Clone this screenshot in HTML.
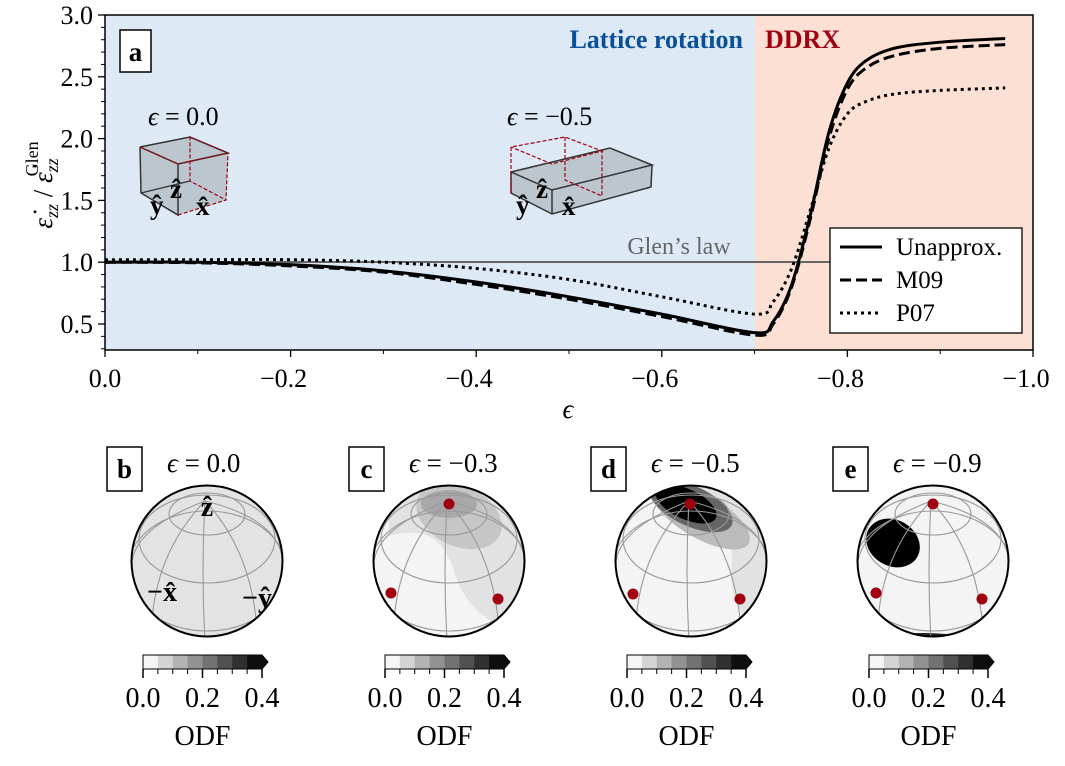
<!DOCTYPE html>
<html><head><meta charset="utf-8"><style>
body{margin:0;background:#fff}
svg text{font-family:"Liberation Serif","DejaVu Serif",serif}
</style></head><body>
<svg id="fig" width="1065" height="761" viewBox="0 0 1065 761" xmlns="http://www.w3.org/2000/svg">
<defs>
<clipPath id="plotclip"><rect x="105" y="15" width="928" height="335"/></clipPath>
</defs>
<g id="main">
<rect x="105" y="15" width="650" height="335" fill="#dde9f5"/>
<rect x="755" y="15" width="278" height="335" fill="#fde0d4"/>
<text x="743" y="48" text-anchor="end" font-size="26" font-weight="bold" fill="#0a4f9a">Lattice rotation</text>
<text x="765" y="48" font-size="26" font-weight="bold" fill="#a00010">DDRX</text>
<g><rect x="120" y="30" width="31" height="42" fill="#fff" stroke="#000" stroke-width="1.5"/><text x="135.5" y="61" text-anchor="middle" font-size="27" font-weight="bold">a</text></g>
<line x1="105" y1="262" x2="830" y2="262" stroke="#666" stroke-width="2"/>
<text x="679" y="254" text-anchor="middle" font-size="24" fill="#666">Glen’s law</text>
<g>
<text x="148" y="125" font-size="26" font-style="italic">ϵ <tspan font-style="normal">= 0.0</tspan></text>
<polygon points="140,147 190,137 228,153 226,200 176,215 141,193" fill="#bcc6ce" stroke="none"/>
<polyline points="140,147 190,137 228,153 178,164 140,147" fill="none" stroke="#333" stroke-width="1.5"/>
<polyline points="178,164 178,215 141,193 140,147" fill="none" stroke="#333" stroke-width="1.5"/>
<polyline points="178,215 226,200 228,153 190,137 190,181 226,200" fill="none" stroke="#a00010" stroke-width="1.2" stroke-dasharray="4,2"/>
<line x1="190" y1="181" x2="141" y2="193" stroke="#333" stroke-width="1.2"/>
<polyline points="140,147 178,164 228,153" fill="none" stroke="#a00010" stroke-width="1.2" stroke-dasharray="4,2"/>
<text x="170" y="198" font-size="27" font-weight="bold">ẑ</text>
<text x="150" y="214" font-size="27" font-weight="bold">ŷ</text>
<text x="196" y="215" font-size="27" font-weight="bold">x̂</text>
</g>
<g>
<text x="507" y="125" font-size="26" font-style="italic">ϵ <tspan font-style="normal">= −0.5</tspan></text>
<polygon points="511,172 610,148 652,165 651,187 552,214 511,193" fill="#bcc6ce"/>
<polyline points="511,172 610,148 652,165 552,190 511,172 511,193 552,214 651,187 652,165" fill="none" stroke="#333" stroke-width="1.5"/>
<line x1="552" y1="190" x2="552" y2="214" stroke="#333" stroke-width="1.5"/>
<polyline points="511,193 511,147 565,137 602,151 552,164 511,147" fill="none" stroke="#a00010" stroke-width="1.2" stroke-dasharray="4,2"/>
<polyline points="565,137 565,180 602,196 602,151" fill="none" stroke="#a00010" stroke-width="1.2" stroke-dasharray="4,2"/>
<text x="536" y="198" font-size="27" font-weight="bold">ẑ</text>
<text x="516" y="214" font-size="27" font-weight="bold">ŷ</text>
<text x="562" y="215" font-size="27" font-weight="bold">x̂</text>
</g>
<g id="series" clip-path="url(#plotclip)"></g>
<rect x="105" y="15" width="928" height="335" fill="none" stroke="#000" stroke-width="1.5"/>
<g id="axes"></g>
<g>
<rect x="830" y="228" width="192" height="105" fill="#fff" stroke="#000" stroke-width="1.3"/>
<g><line x1="840" y1="247" x2="882" y2="247" stroke="#000" stroke-width="3"/><text x="896" y="255" font-size="25">Unapprox.</text></g>
<g><line x1="840" y1="280" x2="882" y2="280" stroke="#000" stroke-width="3" stroke-dasharray="11,5"/><text x="896" y="288" font-size="25">M09</text></g>
<g><line x1="840" y1="313" x2="882" y2="313" stroke="#000" stroke-width="3" stroke-dasharray="3,4"/><text x="896" y="321" font-size="25">P07</text></g>
</g>
<text transform="translate(52,185) rotate(-90)" text-anchor="middle" font-size="27"><tspan font-style="italic">ε̇</tspan><tspan font-size="18" dy="6" font-style="italic">zz</tspan><tspan dy="-6"> / </tspan><tspan font-style="italic">ε̇</tspan><tspan font-size="18" dy="6" font-style="italic">zz</tspan><tspan font-size="18" dx="-18" dy="-20">Glen</tspan></text>
<text x="568" y="418" text-anchor="middle" font-size="27" font-style="italic">ϵ</text>
</g>
<g id="odfs"></g>
</svg>
<script>
const ns="http://www.w3.org/2000/svg";
const epsU=[0,-0.1,-0.2,-0.3,-0.4,-0.5,-0.6,-0.7,-0.72,-0.74,-0.76,-0.78,-0.8,-0.82,-0.85,-0.9,-0.97];
const unapprox=[1.0,1.0,0.98,0.93,0.84,0.72,0.58,0.43,0.52,0.82,1.38,2.05,2.45,2.63,2.73,2.78,2.81];
const m09=[1.0,0.995,0.97,0.92,0.82,0.70,0.56,0.41,0.50,0.80,1.35,2.0,2.4,2.57,2.67,2.73,2.76];
const p07=[1.02,1.02,1.02,1.0,0.95,0.86,0.72,0.58,0.68,0.95,1.42,1.92,2.2,2.3,2.36,2.39,2.41];
const xTicks=[0,-0.2,-0.4,-0.6,-0.8,-1.0];
const xTickLabels=["0.0","−0.2","−0.4","−0.6","−0.8","−1.0"];
const yTicks=[0.5,1.0,1.5,2.0,2.5,3.0];
const yTickLabels=["0.5","1.0","1.5","2.0","2.5","3.0"];
const X=e=>105+(-e)*928;
const Y=v=>15+(3.0-v)*123.6;
function mk(tag,attrs,parent){const el=document.createElementNS(ns,tag);for(const k in attrs)el.setAttribute(k,attrs[k]);parent.appendChild(el);return el;}
function smooth(xs,ys){const p=xs.map((x,i)=>[X(x),Y(ys[i])]);let d="M"+p[0][0]+","+p[0][1];
for(let i=0;i<p.length-1;i++){const p0=p[i-1]||p[i],p1=p[i],p2=p[i+1],p3=p[i+2]||p2;
d+=" C"+(p1[0]+(p2[0]-p0[0])/6)+","+(p1[1]+(p2[1]-p0[1])/6)+" "+(p2[0]-(p3[0]-p1[0])/6)+","+(p2[1]-(p3[1]-p1[1])/6)+" "+p2[0]+","+p2[1];}return d;}
const sg=document.getElementById('series');
let el=mk('path',{d:smooth(epsU,p07),fill:'none',stroke:'#000','stroke-width':3,'stroke-dasharray':'3,4'},sg);

el=mk('path',{d:smooth(epsU,m09),fill:'none',stroke:'#000','stroke-width':3,'stroke-dasharray':'11,5'},sg);

el=mk('path',{d:smooth(epsU,unapprox),fill:'none',stroke:'#000','stroke-width':3},sg);

const ax=document.getElementById('axes');
xTicks.forEach((t,i)=>{mk('line',{x1:X(t),x2:X(t),y1:350,y2:357,stroke:'#000','stroke-width':1.3},ax);
el=mk('text',{x:X(t)+(i?-7:0),y:387,'text-anchor':'middle','font-size':26},ax);el.textContent=xTickLabels[i];

if(i<xTicks.length-1)mk('line',{x1:X(t-0.1),x2:X(t-0.1),y1:350,y2:354,stroke:'#000','stroke-width':1},ax);});
yTicks.forEach((t,i)=>{mk('line',{x1:98,x2:105,y1:Y(t),y2:Y(t),stroke:'#000','stroke-width':1.3},ax);
el=mk('text',{x:93,y:Y(t)+9,'text-anchor':'end','font-size':26},ax);el.textContent=yTickLabels[i];
});
for(let v=0.3;v<3.0;v+=0.1){if(Math.abs(v*2-Math.round(v*2))>0.01)mk('line',{x1:101,x2:105,y1:Y(v),y2:Y(v),stroke:'#000','stroke-width':1},ax);}
const panelLetters=["b","c","d","e"];
const panelEps=["0.0","−0.3","−0.5","−0.9"];
const cbTicks=[0,0.2,0.4];
const cbLevels=[0,0.05,0.1,0.15,0.2,0.25,0.3,0.35];
const centers=[207,449,691,933];
const og=document.getElementById('odfs');
const cy=561,R=75.5;
const dots=[null,[[0,-57],[-58,32],[49,38]],[[-1,-57],[-58,33],[49,38]],[[0,-57],[-57,32],[49,38]]];
panelLetters.forEach((L,i)=>{
const cx=centers[i];const g=mk('g',{},og);

mk('rect',{x:cx-100,y:447,width:35,height:44,fill:'#fff',stroke:'#000','stroke-width':1.5},g);
let t=mk('text',{x:cx-82.5,y:478,'text-anchor':'middle','font-size':27,'font-weight':'bold'},g);t.textContent=L;
t=mk('text',{x:cx-40,y:472,'font-size':27},g);t.innerHTML='<tspan font-style="italic">ϵ</tspan> = '+panelEps[i];
const cid='sc'+i;const cp=mk('clipPath',{id:cid},g);mk('circle',{cx:cx,cy:cy,r:R},cp);
const sg2=mk('g',{'clip-path':'url(#'+cid+')'},g);
mk('circle',{cx:cx,cy:cy,r:R,fill:i==0?'#e3e3e3':'#f4f4f4'},sg2);
if(i==1){mk('path',{d:`M${cx-60},${cy-25} Q${cx-10},${cy-40} ${cx+5},${cy+10} Q${cx+20},${cy+60} ${cx+70},${cy+70} L${cx+80},${cy-80} L${cx-60},${cy-80}Z`,fill:'#e2e2e2'},sg2);
mk('ellipse',{cx:cx+10,cy:cy-45,rx:45,ry:30,fill:'#c6c6c6',transform:`rotate(25 ${cx+10} ${cy-45})`},sg2);
mk('ellipse',{cx:cx,cy:cy-57,rx:28,ry:14,fill:'#a8a8a8'},sg2);}
if(i==2){mk('path',{d:`M${cx-30},${cy-70} Q${cx+50},${cy-40} ${cx+40},${cy+10} Q${cx+40},${cy+60} ${cx+80},${cy+70} L${cx+80},${cy-80}Z`,fill:'#e2e2e2'},sg2);
mk('ellipse',{cx:cx+10,cy:cy-45,rx:55,ry:22,fill:'#bbb',transform:`rotate(30 ${cx+10} ${cy-45})`},sg2);
mk('ellipse',{cx:cx,cy:cy-55,rx:45,ry:20,fill:'#666',transform:`rotate(25 ${cx} ${cy-55})`},sg2);
mk('ellipse',{cx:cx-5,cy:cy-57,rx:33,ry:15,fill:'#000',transform:`rotate(25 ${cx-5} ${cy-57})`},sg2);}
if(i==3){mk('ellipse',{cx:cx-40,cy:cy-18,rx:28,ry:23,fill:'#000',transform:`rotate(30 ${cx-40} ${cy-18})`},sg2);
mk('ellipse',{cx:cx+60,cy:cy-60,rx:25,ry:10,fill:'#000',transform:`rotate(35 ${cx+60} ${cy-60})`},sg2);
mk('ellipse',{cx:cx-10,cy:cy+78,rx:40,ry:6,fill:'#222'},sg2);}
const gs={fill:'none',stroke:'#999','stroke-width':1.1};
mk('ellipse',Object.assign({cx:cx,cy:cy-47,rx:38,ry:21},gs),sg2);
mk('ellipse',Object.assign({cx:cx,cy:cy-22,rx:68,ry:44},gs),sg2);
mk('ellipse',Object.assign({cx:cx,cy:cy+10,rx:80,ry:60},gs),sg2);
mk('path',Object.assign({d:`M${cx-2},${cy-60} Q${cx-6},${cy+10} ${cx-2},${cy+80}`},gs),sg2);
mk('path',Object.assign({d:`M${cx-2},${cy-60} Q${cx-50},${cy-10} ${cx-55},${cy+60}`},gs),sg2);
mk('path',Object.assign({d:`M${cx-2},${cy-60} Q${cx+45},${cy-10} ${cx+50},${cy+70}`},gs),sg2);
mk('path',Object.assign({d:`M${cx-2},${cy-60} Q${cx-80},${cy-30} ${cx-75},${cy+10}`},gs),sg2);
mk('path',Object.assign({d:`M${cx-2},${cy-60} Q${cx+80},${cy-40} ${cx+76},${cy+10}`},gs),sg2);
mk('circle',{cx:cx,cy:cy,r:R,fill:'none',stroke:'#000','stroke-width':2},g);
if(i==0){t=mk('text',{x:cx,y:cy-45,'text-anchor':'middle','font-size':28,'font-weight':'bold'},g);t.textContent='ẑ';
t=mk('text',{x:cx-45,y:cy+40,'text-anchor':'middle','font-size':28,'font-weight':'bold'},g);t.textContent='−x̂';
t=mk('text',{x:cx+50,y:cy+46,'text-anchor':'middle','font-size':28,'font-weight':'bold'},g);t.textContent='−ŷ';}
if(dots[i])dots[i].forEach(d=>{const c=mk('circle',{cx:cx+d[0],cy:cy+d[1],r:5.5,fill:'#a00010'},g);
});
const cb=mk('g',{},g);
const x0=cx-64,w=119,cw=w/8;
cbLevels.forEach((lv,k)=>{const gr=Math.round(245-k*(230/7));mk('rect',{x:x0+k*cw,y:655,width:cw+0.5,height:14,fill:`rgb(${gr},${gr},${gr})`},cb);});
mk('polygon',{points:`${x0+w},655 ${x0+w+6},662 ${x0+w},669`,fill:'#0d0d0d'},cb);
mk('polygon',{points:`${x0},655 ${x0+w},655 ${x0+w+6},662 ${x0+w},669 ${x0},669`,fill:'none',stroke:'#000','stroke-width':1},cb);
for(let k=0;k<=8;k++)mk('line',{x1:x0+k*cw,x2:x0+k*cw,y1:669,y2:k%4==0?678:674,stroke:'#000','stroke-width':k%4==0?1.5:1},cb);
cbTicks.forEach(v=>{const tt=mk('text',{x:x0+v/0.4*w,y:707,'text-anchor':'middle','font-size':28},cb);tt.textContent=v.toFixed(1);});
t=mk('text',{x:x0+w/2,y:745,'text-anchor':'middle','font-size':28},cb);t.textContent='ODF';
});
</script>
</body></html>
